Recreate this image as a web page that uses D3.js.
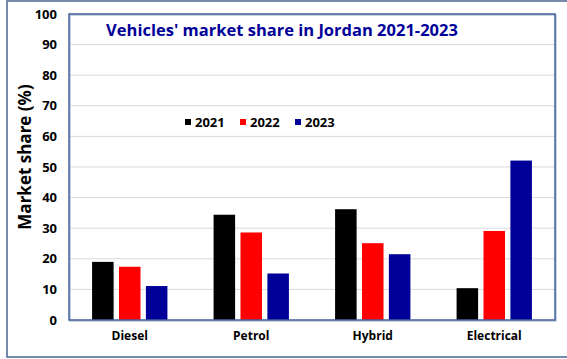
<!DOCTYPE html>
<html>
<head>
<meta charset="utf-8">
<script src="https://cdn.jsdelivr.net/npm/d3@7"></script>
<style>
  body { margin: 0; background: #fff; }
  svg { font-family: "Open Sans", "Noto Sans", sans-serif; }
</style>
</head>
<body>
<div id="chart"></div>
<script>
const categories = ['Diesel', 'Petrol', 'Hybrid', 'Electrical']
const years = ['2021', '2022', '2023']
const share2021 = [19.0, 34.4, 36.2, 10.4]
const share2022 = [17.4, 28.6, 25.1, 29.1]
const share2023 = [11.1, 15.2, 21.5, 52.1]
const yTicks = [0, 10, 20, 30, 40, 50, 60, 70, 80, 90, 100]
const colors = ['#000000', '#ff0000', '#000099']

const series = [share2021, share2022, share2023]
const W = 567, H = 359
const margin = {top: 14, right: 12, bottom: 39, left: 69}
const innerW = W - margin.left - margin.right
const innerH = H - margin.top - margin.bottom

const svg = d3.select('#chart')
  .append('svg')
  .attr('width', W)
  .attr('height', H)

// outer frame
svg.append('rect')
  .attr('x', 7).attr('y', 1)
  .attr('width', W).attr('height', H - 3)
  .attr('fill', 'none')
  .attr('stroke', '#4a6491')
  .attr('stroke-width', 1.5)

const g = svg.append('g')
  .attr('transform', `translate(${margin.left},${margin.top})`)

const x0 = d3.scaleBand().domain(categories).range([0, innerW]).paddingInner(0.38).paddingOuter(0.19)
const x1 = d3.scaleBand().domain(years).range([0, x0.bandwidth()]).paddingInner(0.2)
const y = d3.scaleLinear().domain([0, 100]).range([innerH, 0])

// gridlines
g.append('g')
  .selectAll('line')
  .data(yTicks.filter(d => d > 0))
  .enter()
  .append('line')
    .attr('x1', 0).attr('x2', innerW)
    .attr('y1', d => y(d)).attr('y2', d => y(d))
    .attr('stroke', '#d9d9d9')
    .attr('stroke-width', 1)

// bars
years.forEach((yr, i) => {
  g.append('g')
    .selectAll('rect')
    .data(categories)
    .enter()
    .append('rect')
      .attr('x', d => x0(d) + x1(yr))
      .attr('y', (d, j) => y(series[i][j]))
      .attr('width', x1.bandwidth())
      .attr('height', (d, j) => innerH - y(series[i][j]))
      .attr('fill', colors[i])
})

// plot border (with soft shadow)
g.append('rect')
  .attr('x', 1).attr('y', 1)
  .attr('width', innerW).attr('height', innerH)
  .attr('fill', 'none')
  .attr('stroke', '#b8c2d6')
  .attr('stroke-width', 1.5)
g.append('rect')
  .attr('width', innerW).attr('height', innerH)
  .attr('fill', 'none')
  .attr('stroke', '#41619b')
  .attr('stroke-width', 1.5)

// y axis
const leftAxis = d3.axisLeft(y).tickValues(yTicks).tickSize(0).tickPadding(12)
g.append('g')
  .call(leftAxis)
  .call(a => a.select('.domain').remove())
  .selectAll('text')
    .attr('font-size', 13)
    .attr('font-weight', 'bold')
    .attr('fill', '#000')
    .style('font-family', '"Open Sans", sans-serif')

// x axis labels
const bottomAxis = d3.axisBottom(x0).tickSize(0).tickPadding(11)
g.append('g')
  .attr('transform', `translate(0, ${innerH})`)
  .call(bottomAxis)
  .call(a => a.select('.domain').remove())
  .selectAll('text')
    .attr('font-size', 12)
    .attr('font-weight', 'bold')
    .attr('fill', '#000')
    .style('font-family', '"Open Sans", sans-serif')

// title
svg.append('text')
  .attr('x', 282).attr('y', 36)
  .attr('text-anchor', 'middle')
  .attr('font-size', 16.5)
  .attr('font-weight', 'bold')
  .attr('fill', '#000099')
  .text("Vehicles' market share in Jordan 2021-2023")

// y title
svg.append('text')
  .attr('transform', 'translate(31, 157) rotate(-90)')
  .attr('text-anchor', 'middle')
  .attr('font-size', 17)
  .attr('font-weight', 'bold')
  .attr('fill', '#000')
  .text('Market share (%)')

// legend
const legendX = [185, 240, 295]
const legend = svg.append('g')
years.forEach((yr, i) => {
  legend.append('rect')
    .attr('x', legendX[i]).attr('y', 119)
    .attr('width', 6).attr('height', 6)
    .attr('fill', colors[i])
  legend.append('text')
    .attr('x', legendX[i] + 10).attr('y', 127)
    .attr('font-size', 13)
    .attr('font-weight', 'bold')
    .attr('fill', '#000')
    .text(yr)
})
</script>
</body>
</html>
